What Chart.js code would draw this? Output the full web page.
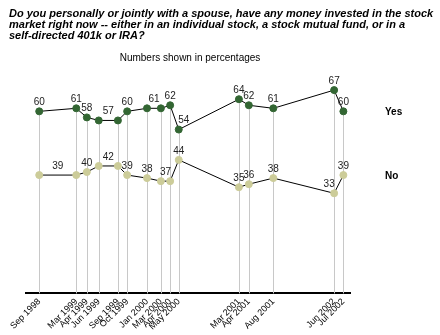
<!DOCTYPE html>
<html>
<head>
<meta charset="utf-8">
<script src="https://cdn.jsdelivr.net/npm/chart.js@4/dist/chart.umd.min.js"></script>
<style>
  html, body { margin: 0; padding: 0; background: #fff; }
  #wrap { width: 440px; height: 335px; }
</style>
</head>
<body>
<div id="wrap"><canvas id="chart"></canvas></div>
<script>
const dateLabels = ['Sep 1998', 'Mar 1999', 'Apr 1999', 'Jun 1999', 'Sep 1999', 'Oct 1999', 'Jan 2000',
  'Mar 2000', 'Apr 2000', 'May 2000', 'Mar 2001', 'Apr 2001', 'Aug 2001', 'Jun 2002', 'Jul 2002'];
// months since Sep 1998, as spaced on the original axis
const monthPos = [0, 5.6, 7.2, 9.0, 11.9, 13.3, 16.3, 18.4, 19.8, 21.1, 30.2, 31.7, 35.4, 44.6, 46.0];
const yesValues = [60, 61, 58, 57, 57, 60, 61, 61, 62, 54, 64, 62, 61, 67, 60];
const noValues = [39, 39, 40, 42, 42, 39, 38, 37, 37, 44, 35, 36, 38, 33, 39];

const titleLines = [
  'Do you personally or jointly with a spouse, have any money invested in the stock',
  'market right now -- either in an individual stock, a stock mutual fund, or in a',
  'self-directed 401k or IRA?'
];
const subTitle = 'Numbers shown in percentages';

const FONT = '"Liberation Sans", Arial, sans-serif';

function toPoints(values) {
  return values.map((v, i) => ({ x: monthPos[i], y: v }));
}

// vertical gray lines from the upper point down to the axis
const dropLines = {
  id: 'dropLines',
  beforeDatasetsDraw(chart) {
    const ctx = chart.ctx;
    const a = chart.getDatasetMeta(0).data;
    const b = chart.getDatasetMeta(1).data;
    ctx.save();
    ctx.strokeStyle = '#c8c8c8';
    ctx.lineWidth = 1;
    a.forEach((p, i) => {
      const x = Math.round(p.x) + 0.5;
      ctx.beginPath();
      ctx.moveTo(x, Math.min(p.y, b[i].y));
      ctx.lineTo(x, chart.chartArea.bottom);
      ctx.stroke();
    });
    ctx.restore();
  }
};

// value labels; equal neighbours share one label placed between them
const labelNudge = { '0-9': 5, '1-13': -5 };

const valueLabels = {
  id: 'valueLabels',
  afterDatasetsDraw(chart) {
    const ctx = chart.ctx;
    ctx.save();
    ctx.font = '10px ' + FONT;
    ctx.fillStyle = '#222';
    ctx.textAlign = 'center';
    ctx.textBaseline = 'bottom';
    chart.data.datasets.forEach((ds, di) => {
      const pts = chart.getDatasetMeta(di).data;
      const vals = ds.data.map(d => d.y);
      let i = 0;
      while (i < vals.length) {
        let j = i;
        while (j + 1 < vals.length && vals[j + 1] === vals[i]) j++;
        const dx = labelNudge[di + '-' + i] || 0;
        const x = (pts[i].x + pts[j].x) / 2 + dx;
        const y = Math.min(pts[i].y, pts[j].y);
        ctx.fillText(String(vals[i]), x, y - 4);
        i = j + 1;
      }
    });
    ctx.restore();
  }
};

const extraText = {
  id: 'extraText',
  afterDraw(chart) {
    const ctx = chart.ctx;
    ctx.save();
    ctx.fillStyle = '#000';
    ctx.textBaseline = 'alphabetic';
    ctx.textAlign = 'left';
    ctx.font = 'italic bold 11px ' + FONT;
    titleLines.forEach((t, i) => ctx.fillText(t, 9, 17 + i * 11));
    ctx.font = '10px ' + FONT;
    ctx.textAlign = 'center';
    ctx.fillText(subTitle, 190, 61);
    ctx.font = 'bold 10px ' + FONT;
    ctx.textAlign = 'left';
    ctx.textBaseline = 'middle';
    chart.data.datasets.forEach((ds, di) => {
      const pts = chart.getDatasetMeta(di).data;
      ctx.fillText(ds.label, 385, pts[pts.length - 1].y + 1);
    });
    ctx.restore();
  }
};

new Chart(document.getElementById('chart'), {
  type: 'line',
  data: {
    datasets: [
      {
        label: 'Yes',
        data: toPoints(yesValues),
        borderColor: '#000',
        borderWidth: 1,
        backgroundColor: '#336633',
        pointBackgroundColor: '#336633',
        pointBorderColor: '#336633',
        pointRadius: 3.5,
        tension: 0
      },
      {
        label: 'No',
        data: toPoints(noValues),
        borderColor: '#000',
        borderWidth: 1,
        backgroundColor: '#cccc99',
        pointBackgroundColor: '#cccc99',
        pointBorderColor: '#cccc99',
        pointRadius: 3.5,
        tension: 0
      }
    ]
  },
  options: {
    responsive: true,
    maintainAspectRatio: false,
    animation: false,
    layout: { padding: { top: 81, left: 26, right: 90, bottom: 0 } },
    plugins: {
      legend: { display: false },
      tooltip: { enabled: false }
    },
    scales: {
      x: {
        type: 'linear',
        min: -2,
        max: 47,
        grid: { display: false, drawTicks: false },
        border: { display: true, color: '#000', width: 2 },
        afterBuildTicks: axis => { axis.ticks = monthPos.map(v => ({ value: v })); },
        ticks: {
          autoSkip: false,
          minRotation: 45,
          maxRotation: 45,
          padding: 3,
          color: '#000',
          font: { family: FONT, size: 9 },
          callback: (value, index) => dateLabels[index]
        }
      },
      y: {
        display: false,
        min: 0,
        max: 70
      }
    }
  },
  plugins: [dropLines, valueLabels, extraText]
});
</script>
</body>
</html>
